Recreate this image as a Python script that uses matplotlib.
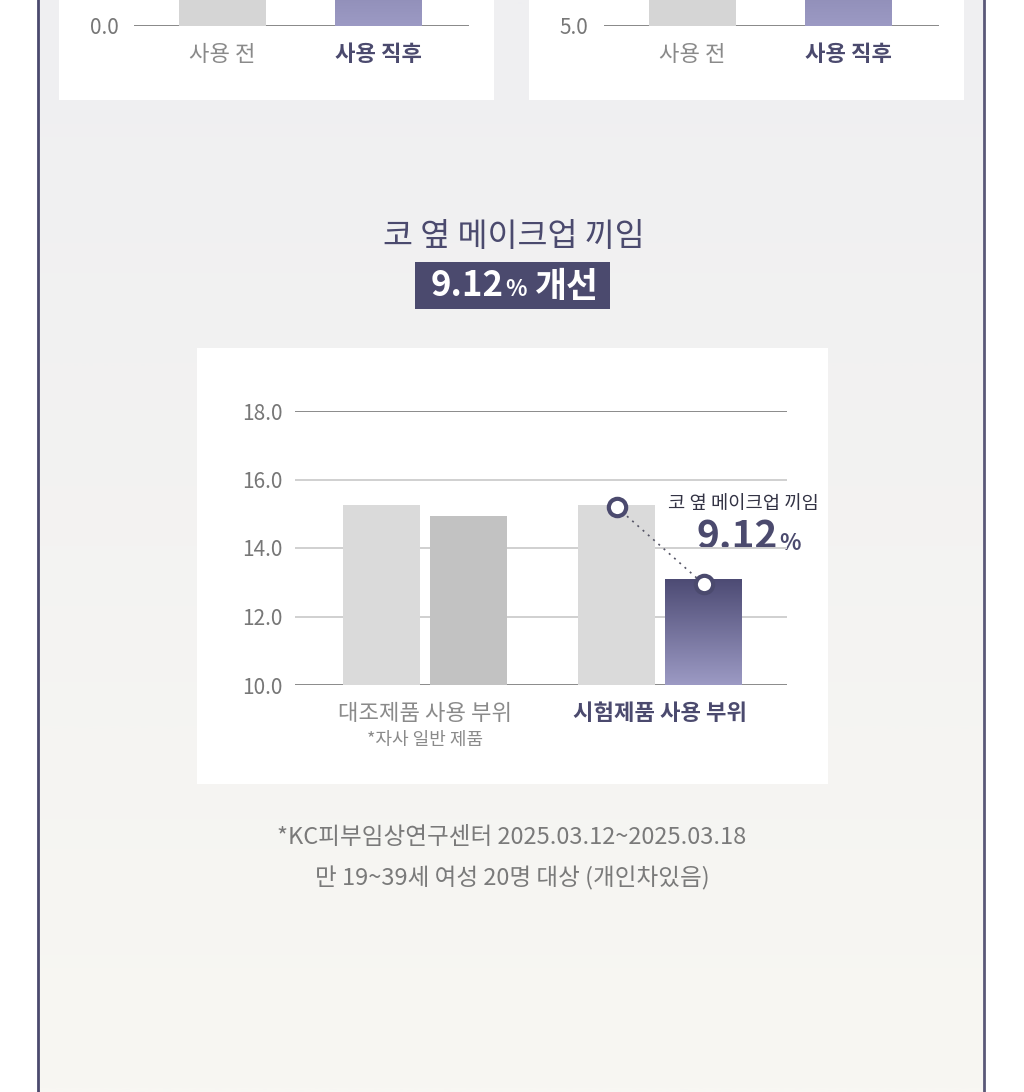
import numpy as np
import matplotlib
matplotlib.use("Agg")
import matplotlib.pyplot as plt
from matplotlib.patches import Rectangle
from matplotlib.colors import LinearSegmentedColormap

plt.rcParams['font.family'] = ['Noto Sans CJK KR', 'DejaVu Sans']

# ---------------- data ----------------
top_categories = ["사용 전", "사용 직후"]
top_left_values = [5.6, 6.4]
top_left_ticks = [0.0, 2.0, 4.0, 6.0, 8.0]
top_right_values = [10.6, 11.2]
top_right_ticks = [5.0, 7.0, 9.0, 11.0, 13.0]

main_groups = ["대조제품 사용 부위", "시험제품 사용 부위"]
main_sub_note = "*자사 일반 제품"
main_before = [15.26, 15.26]
main_after = [14.93, 13.09]
main_ticks = [10.0, 12.0, 14.0, 16.0, 18.0]

title_line = "코 옆 메이크업 끼임"
improve_value = "9.12"
improve_word = "개선"
footnotes = ["*KC피부임상연구센터 2025.03.12~2025.03.18",
             "만 19~39세 여성 20명 대상 (개인차있음)"]

W, H = 1024, 1092
NAVY = "#4b4a6e"
fig = plt.figure(figsize=(W / 100, H / 100), dpi=100)

# ---------------- background (pixel coords) ----------------
bg = fig.add_axes([0, 0, 1, 1], zorder=0)
bg.set_xlim(0, W)
bg.set_ylim(H, 0)
bg.axis("off")
grad_cmap = LinearSegmentedColormap.from_list("bg", ["#efeff1", "#f8f7f3"])
bg.imshow(np.linspace(0, 1, 1024).reshape(-1, 1), cmap=grad_cmap, aspect="auto",
          extent=[38, 984, H, 0], zorder=0, interpolation="bilinear")
bg.set_xlim(0, W)
bg.set_ylim(H, 0)
bg.plot([38, 38], [0, H], color=NAVY, lw=2, zorder=2)
bg.plot([983.5, 983.5], [0, H], color="#5a5878", lw=2, zorder=2)
# cards
for (x0, y0, x1, y1) in [(59, -5, 494, 100), (529, -5, 964, 100), (197, 348, 828, 784)]:
    bg.add_patch(Rectangle((x0, y0), x1 - x0, y1 - y0, facecolor="white",
                           edgecolor="none", zorder=1))

# title
bg.text(514, 237, title_line, ha="center", va="center", fontsize=23.5,
        color=NAVY, fontweight="medium")
bg.add_patch(Rectangle((415, 262), 195, 47, facecolor=NAVY, edgecolor="none", zorder=1))
bg.text(504, 286, improve_value, ha="right", va="center", fontsize=25,
        color="white", fontweight="bold")
bg.text(505, 290, "%", ha="left", va="center", fontsize=16,
        color="white", fontweight="bold")
bg.text(535, 286, improve_word, ha="left", va="center", fontsize=25,
        color="white", fontweight="bold")

# footnotes
bg.text(512, 837, footnotes[0], ha="center", va="center", fontsize=17, color="#7a7a7a",
        fontweight="medium")
bg.text(512, 878, footnotes[1], ha="center", va="center", fontsize=17, color="#7a7a7a",
        fontweight="medium")

# annotation
bg.text(743, 504, title_line, ha="center", va="center", fontsize=13.5, color="#333344",
        fontweight="medium")
bg.text(778, 537, improve_value, ha="right", va="center", fontsize=28,
        color=NAVY, fontweight="bold")
bg.text(779, 543, "%", ha="left", va="center", fontsize=16,
        color=NAVY, fontweight="bold")

purple_cmap = LinearSegmentedColormap.from_list("pu", ["#9c9ac4", "#4d4b74"])


def gradient_bar(ax, patch, cmap):
    x, y = patch.get_x(), patch.get_y()
    w, h = patch.get_width(), patch.get_height()
    im = ax.imshow(np.linspace(0, 1, 256).reshape(-1, 1), cmap=cmap, aspect="auto",
                   origin="lower", extent=[x, x + w, y, y + h], zorder=patch.get_zorder() + 0.1)
    im.set_clip_path(patch)


def px_axes(x0, x1, ybot, ytop):
    return fig.add_axes([x0 / W, 1 - ybot / H, (x1 - x0) / W, (ybot - ytop) / H], zorder=2)


def style_xlabels(ax, size):
    ax.tick_params(axis="x", pad=12)
    lbls = ax.get_xticklabels()
    lbls[0].set_color("#8a8a8a")
    lbls[0].set_fontsize(size)
    lbls[1].set_color(NAVY)
    lbls[1].set_fontweight("bold")
    lbls[1].set_fontsize(size)


# ---------------- top partial charts ----------------
def top_chart(x0, x1, values, ticks):
    ax = px_axes(x0, x1, 26, 26 - 274)
    ax.patch.set_alpha(0)
    unit = 156.0
    xl = (-88.5 / unit, (x1 - x0 - 88.5) / unit)
    bars = ax.bar([0, 1], [v - ticks[0] for v in values], bottom=ticks[0], width=87 / unit,
                  color=["#d5d5d5", "#9896bf"], zorder=3)
    gradient_bar(ax, bars[1], purple_cmap)
    ax.set_xlim(*xl)
    ax.set_ylim(ticks[0], ticks[-1])
    # only the baseline tick lies inside the visible (cropped) area
    ax.set_yticks(ticks[:1])
    ax.set_yticklabels([f"{ticks[0]:.1f}"], fontsize=15, color="#777777")
    ax.tick_params(length=0, pad=11)
    ax.axhline(ticks[0], color="#888888", lw=1.4, zorder=2)
    for s in ax.spines.values():
        s.set_visible(False)
    ax.set_xticks([0, 1])
    ax.set_xticklabels(top_categories)
    style_xlabels(ax, 16)
    return ax


top_chart(134, 469, top_left_values, top_left_ticks)
top_chart(604, 939, top_right_values, top_right_ticks)

# ---------------- main chart ----------------
ax = px_axes(295, 787, 685, 411)
ax.patch.set_alpha(0)
unit = 235.0
off = 43.5 / unit
bw = 77 / unit
xg = np.arange(len(main_groups))
b1 = ax.bar(xg - off, [v - main_ticks[0] for v in main_before], bottom=main_ticks[0],
            width=bw, color="#dadada", zorder=3)
b2 = ax.bar(xg + off, [v - main_ticks[0] for v in main_after], bottom=main_ticks[0],
            width=bw, color=["#c2c2c2", "#7e7ca6"], zorder=3)
gradient_bar(ax, b2[1], purple_cmap)

# connecting markers
ax.plot([xg[1] - off, xg[1] + off], [main_before[1] - 0.06, main_after[1] - 0.14],
        color="#555566", lw=1.2, ls=(0, (1.2, 3)), zorder=5)
ax.plot([xg[1] - off, xg[1] + off], [main_before[1] - 0.06, main_after[1] - 0.14],
        ls="none", marker="o", ms=12.5, mfc="white", mec=NAVY, mew=3, zorder=6)

ax.set_xlim(-130 / unit, 362 / unit)
ax.set_ylim(main_ticks[0], main_ticks[-1])
ax.set_yticks(main_ticks)
ax.set_yticklabels([f"{t:.1f}" for t in main_ticks], fontsize=15, color="#777777")
ax.tick_params(length=0, pad=9)
for t in main_ticks:
    edge = t in (main_ticks[0], main_ticks[-1])
    ax.axhline(t, color="#8a8a8a" if edge else "#d0d0d0", lw=1.4, zorder=2)
for s in ax.spines.values():
    s.set_visible(False)
ax.set_xticks(xg)
ax.set_xticklabels(main_groups)
style_xlabels(ax, 16)
ax.text(xg[0], -0.20, main_sub_note, transform=ax.get_xaxis_transform(),
        ha="center", va="center", fontsize=13, color="#8a8a8a")

fig.savefig("out.png", dpi=100)
